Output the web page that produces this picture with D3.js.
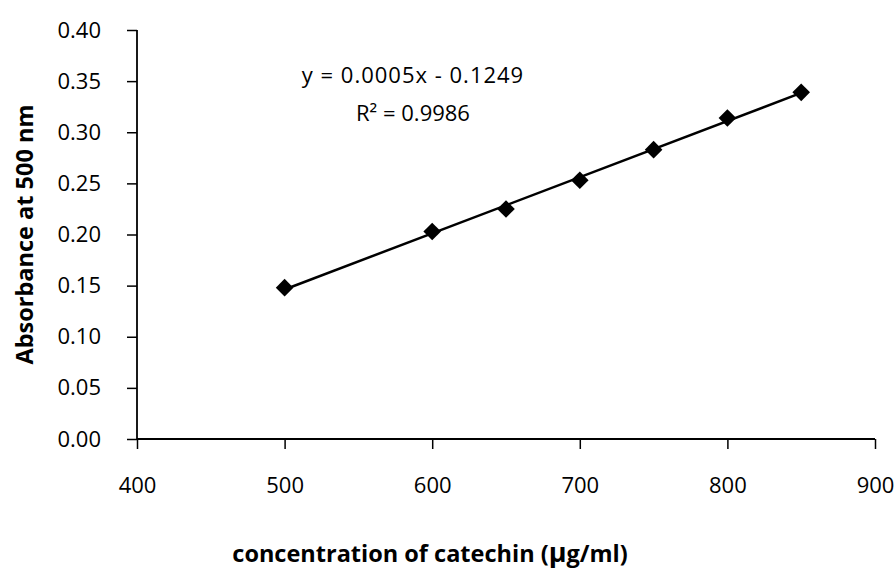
<!DOCTYPE html>
<html>
<head>
<meta charset="utf-8">
<script src="https://cdn.jsdelivr.net/npm/d3@7/dist/d3.min.js"></script>
<style>
  body { margin: 0; background: #fff; }
  text { font-family: "Open Sans", "DejaVu Sans", sans-serif; fill: #000; }
</style>
</head>
<body>
<div id="chart"></div>
<script>
// data
const concentration = [500, 600, 650, 700, 750, 800, 850];
const absorbance = [0.148, 0.203, 0.225, 0.253, 0.283, 0.314, 0.339];
const xTicks = [400, 500, 600, 700, 800, 900];
const yTicks = [0, 0.05, 0.10, 0.15, 0.20, 0.25, 0.30, 0.35, 0.40];
const equationText = ["y = 0.0005x - 0.1249", "R² = 0.9986"];

const width = 896, height = 570;

const x = d3.scaleLinear().domain([400, 900]).range([137, 875]);
const y = d3.scaleLinear().domain([0, 0.4]).range([439, 30]);

const svg = d3.select("#chart")
    .append("svg")
    .attr("width", width)
    .attr("height", height);

/**
 * Axes
 */
const yAxis = svg.append("g")
    .attr("transform", `translate(${x(400)},0)`)
    .call(d3.axisLeft(y).tickValues(yTicks).tickFormat(d3.format(".2f"))
        .tickSize(10).tickPadding(26));

const xAxis = svg.append("g")
    .attr("transform", `translate(0,${y(0)})`)
    .call(d3.axisBottom(x).tickValues(xTicks).tickFormat(d3.format("d"))
        .tickSize(10).tickPadding(28));

[xAxis, yAxis].forEach(g => {
    g.select(".domain").attr("stroke", "#000").attr("stroke-width", 1.8)
        .attr("d", g === xAxis ? `M${x(400)},0H${x(900)}` : `M0,${y(0)}V${y(0.4)}`);
    g.selectAll(".tick line").attr("stroke", "#000").attr("stroke-width", 1.5);
    g.selectAll(".tick text").attr("font-size", 22).attr("font-family", "Open Sans");
});

// axis titles
svg.append("text")
    .attr("transform", `translate(33,${(y(0) + y(0.4)) / 2}) rotate(-90)`)
    .attr("text-anchor", "middle")
    .attr("font-size", 23.5)
    .attr("font-weight", "bold")
    .text("Absorbance at 500 nm");

const xTitle = svg.append("text")
    .attr("x", 430)
    .attr("y", 562)
    .attr("text-anchor", "middle")
    .attr("font-size", 23.5)
    .attr("font-weight", "bold");
xTitle.append("tspan").text("concentration of catechin (");
xTitle.append("tspan").attr("font-size", 27).text("µ");
xTitle.append("tspan").text("g/ml)");

/**
 * Linear trendline from least squares
 */
const mx = d3.mean(concentration), my = d3.mean(absorbance);
const slope = d3.sum(concentration, (c, i) => (c - mx) * (absorbance[i] - my)) /
    d3.sum(concentration, c => (c - mx) * (c - mx));
const intercept = my - slope * mx;
const xEnds = d3.extent(concentration);

svg.append("path")
    .datum(xEnds)
    .attr("fill", "none")
    .attr("stroke", "#000")
    .attr("stroke-width", 2.5)
    .attr("d", d3.line().x(d => x(d)).y(d => y(slope * d + intercept)));

// diamond markers
svg.selectAll("path.marker")
    .data(concentration)
    .join("path")
    .attr("class", "marker")
    .attr("fill", "#000")
    .attr("transform", (d, i) => `translate(${x(d)},${y(absorbance[i])}) rotate(45)`)
    .attr("d", d3.symbol(d3.symbolSquare, 155)());

// equation labels
svg.selectAll("text.eq")
    .data(equationText)
    .join("text")
    .attr("class", "eq")
    .attr("x", 413)
    .attr("y", (d, i) => i === 0 ? 83 : 121)
    .attr("text-anchor", "middle")
    .attr("font-size", 22)
    .attr("letter-spacing", (d, i) => i === 0 ? 1 : 0)
    .text(d => d);
</script>
</body>
</html>
